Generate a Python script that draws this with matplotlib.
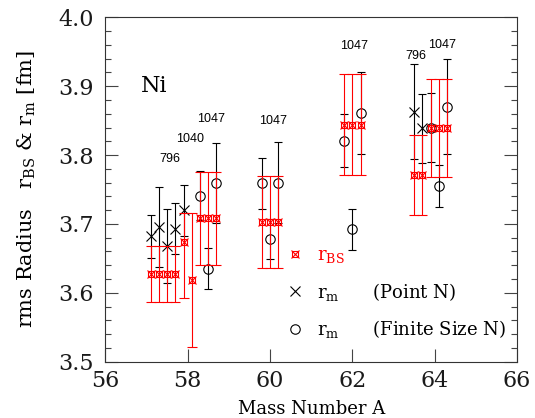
import matplotlib
matplotlib.use("Agg")
import matplotlib.pyplot as plt
from matplotlib.lines import Line2D
from matplotlib.legend_handler import HandlerTuple
from matplotlib.ticker import MultipleLocator

plt.rcParams['font.family'] = 'serif'
plt.rcParams['font.serif'] = ['DejaVu Serif']
plt.rcParams['mathtext.fontset'] = 'dejavuserif'

# ---- data ----
A_point = [57.1, 57.3, 57.5, 57.7, 57.9, 63.5, 63.7]
r_point = [3.682, 3.695, 3.668, 3.693, 3.720, 3.863, 3.839]
e_point = [0.031, 0.058, 0.054, 0.037, 0.037, 0.069, 0.050]

A_finite = [58.3, 58.5, 58.7, 59.8, 60.0, 60.2, 61.8, 62.0, 62.2, 63.9, 64.1, 64.3]
r_finite = [3.741, 3.635, 3.760, 3.759, 3.678, 3.760, 3.821, 3.692, 3.861, 3.840, 3.755, 3.870]
e_finite = [0.036, 0.030, 0.058, 0.037, 0.029, 0.059, 0.038, 0.030, 0.060, 0.050, 0.030, 0.069]

A_bs = [57.1, 57.3, 57.5, 57.7, 57.9, 58.1, 58.3, 58.5, 58.7, 59.8, 60.0, 60.2,
        61.8, 62.0, 62.2, 63.5, 63.7, 63.9, 64.1, 64.3]
r_bs = [3.627, 3.627, 3.627, 3.627, 3.674, 3.619, 3.708, 3.708, 3.708, 3.703, 3.703, 3.703,
        3.844, 3.844, 3.844, 3.771, 3.771, 3.839, 3.839, 3.839]
e_bs_lo = [0.041, 0.041, 0.041, 0.041, 0.081, 0.097, 0.067, 0.067, 0.067, 0.067, 0.067, 0.067,
           0.073, 0.073, 0.073, 0.058, 0.058, 0.071, 0.071, 0.071]
e_bs_hi = [0.041, 0.041, 0.041, 0.041, 0.042, 0.097, 0.067, 0.067, 0.067, 0.067, 0.067, 0.067,
           0.073, 0.073, 0.073, 0.058, 0.058, 0.071, 0.071, 0.071]

energy_labels = ["796", "1040", "1047", "1047", "1047", "796", "1047"]
label_A = [57.57, 58.07, 58.57, 60.07, 62.05, 63.54, 64.19]
label_r = [3.794, 3.824, 3.853, 3.850, 3.959, 3.944, 3.960]

# ---- figure ----
fig = plt.figure(figsize=(5.35, 4.18), dpi=100)
L, R, T, B = 105.3, 517.0, 17.3, 361.7
ax = fig.add_axes([L / 535, (418 - B) / 418, (R - L) / 535, (B - T) / 418])

ax.errorbar(A_point, r_point, yerr=e_point, fmt='x', color='black', ms=6.5, mew=0.8,
            elinewidth=0.8, capsize=3, capthick=0.8, zorder=3)
ax.errorbar(A_finite, r_finite, yerr=e_finite, fmt='o', color='black', mfc='none', ms=6.8,
            mew=0.8, elinewidth=0.8, capsize=3, capthick=0.8, zorder=3)
ax.errorbar(A_bs, r_bs, yerr=[e_bs_lo, e_bs_hi], fmt='none', ecolor='red', elinewidth=0.8,
            capsize=3.3, capthick=0.8, zorder=4)
ax.plot(A_bs, r_bs, ls='none', marker='s', ms=3.8, mfc='none', mec='red', mew=0.8, zorder=5)
ax.plot(A_bs, r_bs, ls='none', marker='x', ms=6.3, mec='red', mew=0.8, zorder=5)

for txt, a, r in zip(energy_labels, label_A, label_r):
    ax.text(a, r, txt, ha='center', va='center', fontsize=9,
            family=['Liberation Sans', 'DejaVu Sans'])

ax.text(57.18, 3.90, 'Ni', fontsize=16, ha='center', va='center')

ax.set_xlim(56, 66)
ax.set_ylim(3.5, 4.0)
ax.set_xticks([56, 58, 60, 62, 64, 66])
ax.set_yticks([3.5, 3.6, 3.7, 3.8, 3.9, 4.0])
ax.yaxis.set_minor_locator(MultipleLocator(0.02))
ax.tick_params(axis='both', which='major', direction='in', length=9.5, width=0.8,
               labelsize=16, color='#444444', labelcolor='#1a1a1a')
ax.tick_params(axis='y', which='both', left=True, right=True, direction='in')
ax.tick_params(axis='y', which='minor', length=4, width=0.8, color='#444444')
ax.tick_params(axis='y', which='major', pad=8)
ax.tick_params(axis='x', which='major', pad=6, top=False)
for s in ax.spines.values():
    s.set_linewidth(0.8)
    s.set_color('#333333')

ax.set_xlabel('Mass Number A', fontsize=13, labelpad=6)
ax.set_ylabel(r'rms Radius   $\mathrm{r_{BS}}$ & $\mathrm{r_m}$ [fm]', fontsize=15, labelpad=15)

h_bs = (Line2D([], [], ls='none', marker='s', ms=3.8, mfc='none', mec='red', mew=0.8),
        Line2D([], [], ls='none', marker='x', ms=6.3, mec='red', mew=0.8))
h_pt = Line2D([], [], ls='none', marker='x', ms=6.5, mec='black', mew=0.8)
h_fs = Line2D([], [], ls='none', marker='o', ms=6.8, mfc='none', mec='black', mew=0.8)
leg = ax.legend([h_bs, h_pt, h_fs],
                [r'$\mathrm{r_{BS}}$', r'$\mathrm{r_m}$      (Point N)',
                 r'$\mathrm{r_m}$      (Finite Size N)'],
                handler_map={tuple: HandlerTuple(ndivide=1, pad=0)},
                loc='upper left', bbox_to_anchor=(0.441, 0.335), frameon=False,
                fontsize=13, handlelength=0.9, handletextpad=0.75, labelspacing=0.85,
                borderpad=0, borderaxespad=0)
leg.get_texts()[0].set_color('red')

fig.savefig('out.png', dpi=100)
